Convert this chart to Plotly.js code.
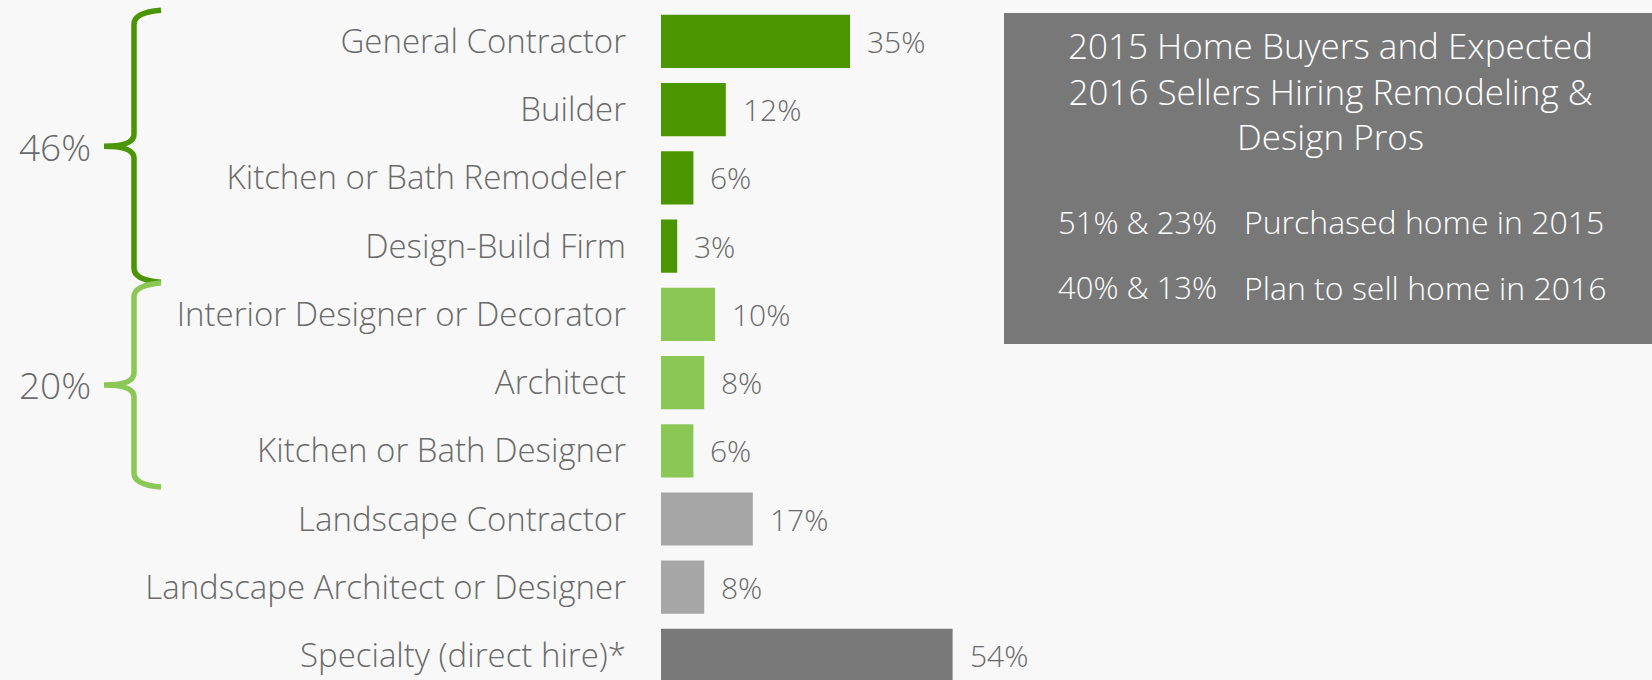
<!DOCTYPE html>
<html>
<head>
<meta charset="utf-8">
<script src="https://cdn.plot.ly/plotly-3.0.1.min.js"></script>
<style>
  html, body { margin: 0; padding: 0; background: #f8f8f8; }
  #chart { width: 1652px; height: 680px; }
</style>
</head>
<body>
<div id="chart"></div>
<script>
// ---- data ----
var categories = [
  "General Contractor", "Builder", "Kitchen or Bath Remodeler", "Design-Build Firm",
  "Interior Designer or Decorator", "Architect", "Kitchen or Bath Designer",
  "Landscape Contractor", "Landscape Architect or Designer", "Specialty (direct hire)*"
];
var values = [35, 12, 6, 3, 10, 8, 6, 17, 8, 54];
var groups = ["renovation", "renovation", "renovation", "renovation",
              "design", "design", "design", "landscape", "landscape", "specialty"];

var bracketLabels = ["46%", "20%"];
var bracketStart  = [0, 4];
var bracketEnd    = [3, 6];
var bracketGroups = ["renovation", "design"];

var infoTitle = ["2015 Home Buyers and Expected", "2016 Sellers Hiring Remodeling &", "Design Pros"];
var statValues = ["51% & 23%", "40% & 13%"];
var statLabels = ["Purchased home in 2015", "Plan to sell home in 2016"];

// ---- styles ----
var groupColors = { renovation: "#4a9500", design: "#8bc755", landscape: "#a6a6a6", specialty: "#787878" };
var W = 1652, H = 680, L = 661;
var plotW = W - L;
var pxPerUnit = 5.4;
var yRange = [9.36, -0.608];
var FONT = "'Open Sans', Lato, sans-serif";
var textColor = "#6a6a6a";

function px2x(px) { return (px - L) / plotW; }
function py2y(py) { return 1 - py / H; }
function cat2y(v) { return (yRange[0] - v) / (yRange[0] - yRange[1]); }

var barColors = groups.map(function (g) { return groupColors[g]; });

var trace = {
  type: "bar",
  orientation: "h",
  y: categories,
  x: values,
  width: 0.78,
  marker: { color: barColors, line: { width: 0 } },
  hoverinfo: "none"
};

var annotations = [];
// value labels
values.forEach(function (v, i) {
  annotations.push({
    x: v, y: categories[i], xref: "x", yref: "y",
    text: v + "%", showarrow: false, xanchor: "left", yanchor: "middle",
    xshift: 15, font: { family: FONT, size: 30, color: textColor, weight: 300 }
  });
});

var shapes = [];
// brackets
var bx = 134, bxEnd = 161, bTip = 104;
bracketLabels.forEach(function (lab, k) {
  var top = cat2y(bracketStart[k] - 0.43);
  var bot = cat2y(bracketEnd[k] + 0.5);
  var mid = (top + bot) / 2;
  var col = groupColors[bracketGroups[k]];
  var dy = 12 / H; // curve size in paper units
  var X = function (p) { return px2x(p); };
  var path = "M" + X(bxEnd) + "," + (top + 2 / H) +
    " Q" + X(bx) + "," + (top) + " " + X(bx) + "," + (top - dy) +
    " L" + X(bx) + "," + (mid + dy) +
    " Q" + X(bx) + "," + mid + " " + X(bTip) + "," + mid +
    " Q" + X(bx) + "," + mid + " " + X(bx) + "," + (mid - dy) +
    " L" + X(bx) + "," + (bot + dy) +
    " Q" + X(bx) + "," + bot + " " + X(bxEnd) + "," + (bot - 2 / H);
  shapes.push({
    type: "path", xref: "paper", yref: "paper", path: path,
    line: { color: col, width: 5.5 }, layer: "above"
  });
  annotations.push({
    x: px2x(93), y: mid, xref: "paper", yref: "paper",
    text: lab, showarrow: false, xanchor: "right", yanchor: "middle",
    font: { family: FONT, size: 37, color: textColor, weight: 300 }
  });
});

// info box
shapes.push({
  type: "rect", xref: "paper", yref: "paper",
  x0: px2x(1004), x1: 1, y0: py2y(344), y1: py2y(13),
  fillcolor: "#787878", line: { width: 0 }, layer: "below"
});
annotations.push({
  x: px2x(1330), y: py2y(91), xref: "paper", yref: "paper",
  text: infoTitle.join("<br>"), showarrow: false, xanchor: "center", yanchor: "middle",
  align: "center",
  font: { family: FONT, size: 35, color: "#ffffff", weight: 300 }
});
statValues.forEach(function (s, i) {
  var yy = py2y(222 + i * 65);
  annotations.push({
    x: px2x(1219), y: yy, xref: "paper", yref: "paper",
    text: s, showarrow: false, xanchor: "right", yanchor: "middle",
    font: { family: FONT, size: 31, color: "#ffffff", weight: 300 }
  });
  annotations.push({
    x: px2x(1242), y: yy, xref: "paper", yref: "paper",
    text: statLabels[i], showarrow: false, xanchor: "left", yanchor: "middle",
    font: { family: FONT, size: 32, color: "#ffffff", weight: 300 }
  });
});

var layout = {
  width: W, height: H,
  margin: { l: L, r: 0, t: 0, b: 0, pad: 0 },
  paper_bgcolor: "#f8f8f8",
  plot_bgcolor: "#f8f8f8",
  showlegend: false,
  xaxis: {
    range: [0, plotW / pxPerUnit],
    showgrid: false, zeroline: false, showticklabels: false, showline: false, ticks: ""
  },
  yaxis: {
    type: "category",
    categoryorder: "array", categoryarray: categories,
    range: yRange,
    showgrid: false, zeroline: false, showline: false, ticks: "",
    ticklabelstandoff: 34,
    tickfont: { family: FONT, size: 33, color: textColor, weight: 300 }
  },
  shapes: shapes,
  annotations: annotations,
  hovermode: false
};

Plotly.newPlot("chart", [trace], layout, { displayModeBar: false, staticPlot: true });
</script>
</body>
</html>
